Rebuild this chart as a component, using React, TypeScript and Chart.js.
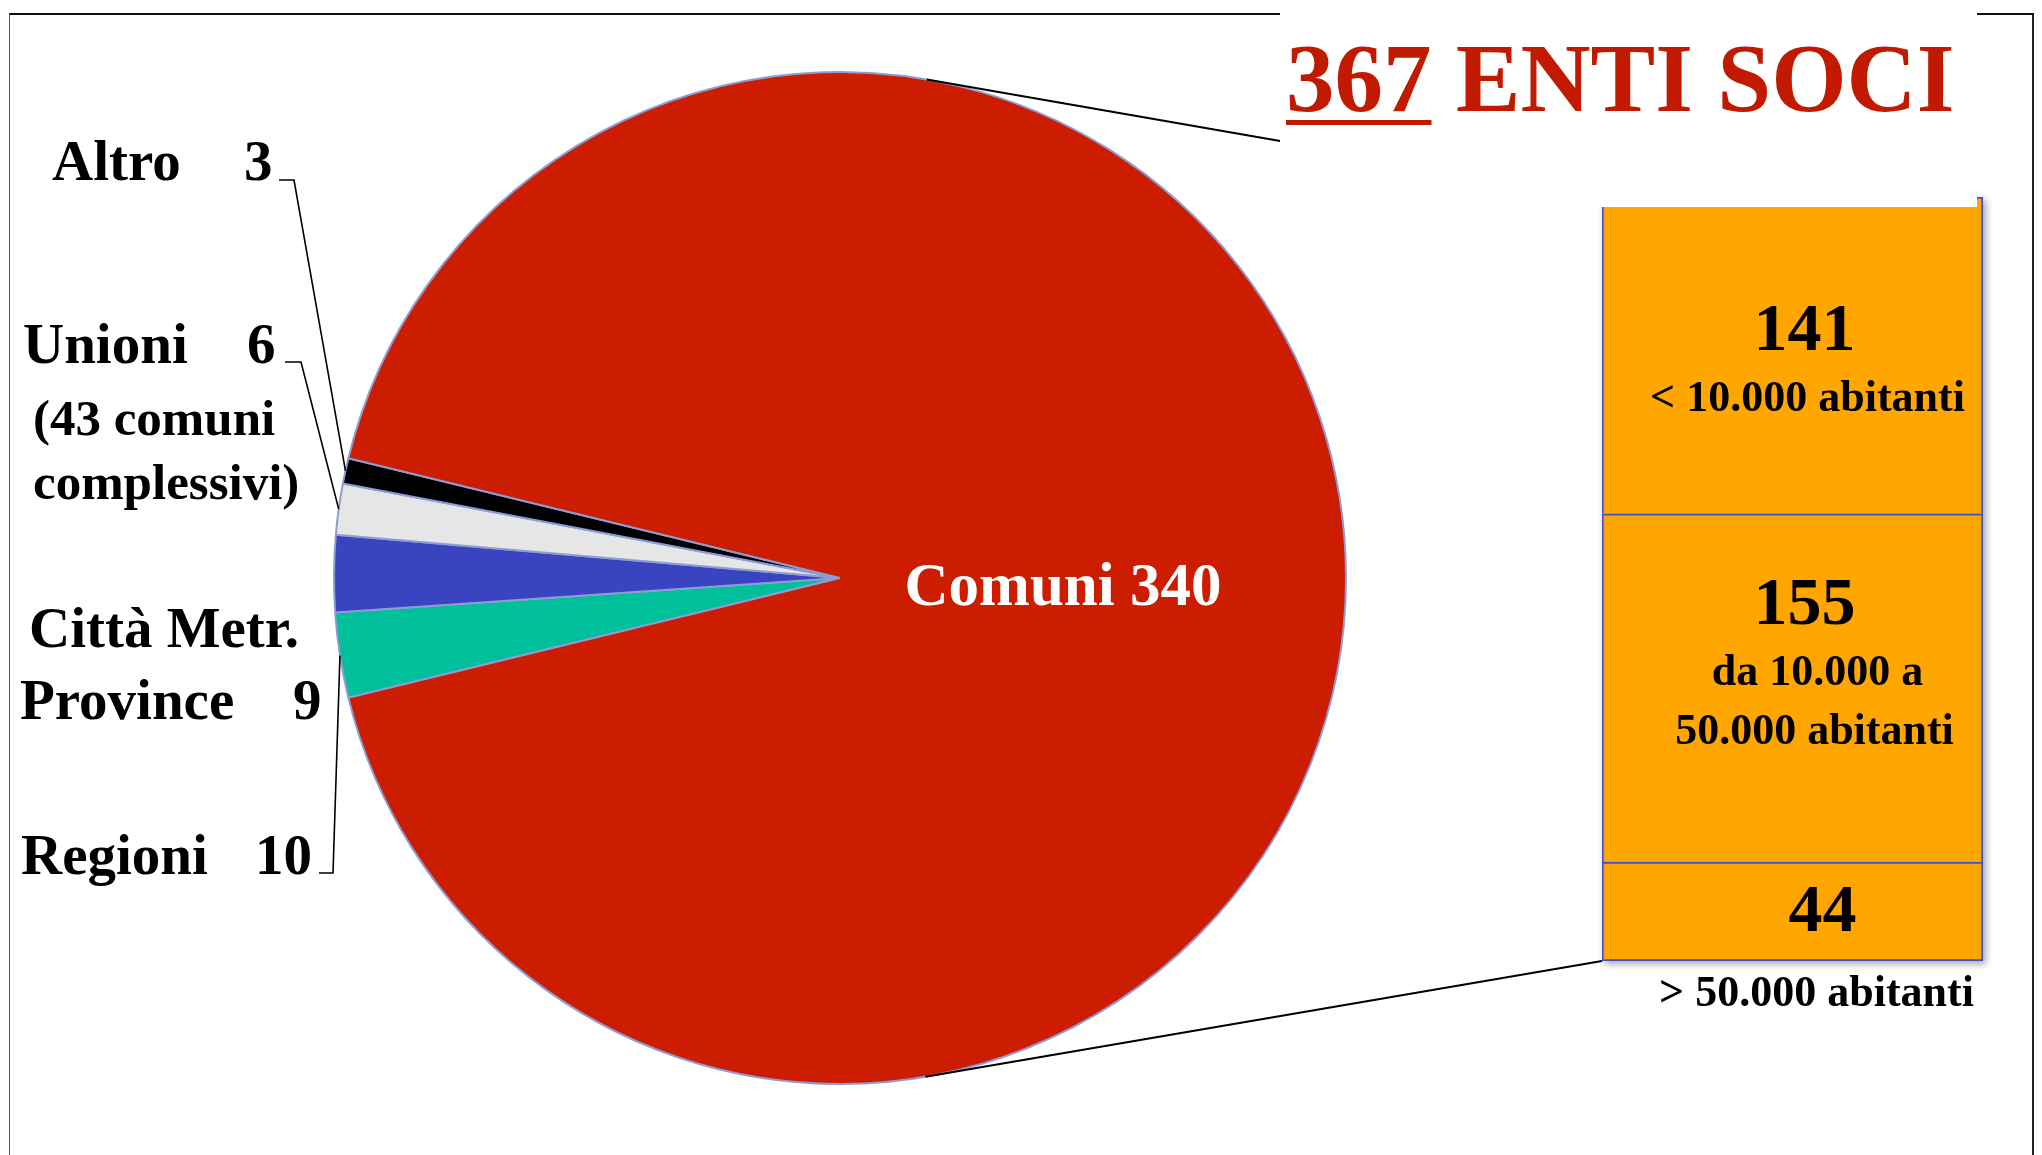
import React, { useEffect, useRef } from 'react';
import { Chart, registerables } from 'chart.js';

Chart.register(...registerables);

const W = 2042;
const H = 1155;
const FONT = '"Liberation Serif", "Times New Roman", serif';

// Pie: order is clockwise starting at the lower-left edge of the small slices
const pieCategories = ['Regioni', 'Città Metr. Province', 'Unioni', 'Altro', 'Comuni'];
const pieValues = [10, 9, 6, 3, 340];
const pieColors = ['#00BF9B', '#3A44C0', '#E6E6E6', '#000000', '#CC1D00'];
const unioniNote = ['(43 comuni', 'complessivi)'];
const cittaLines = ['Città Metr.', 'Province'];

// Bar of pie: split of "Comuni" by population (bottom to top)
const barCategoryLines = [['> 50.000 abitanti'], ['da 10.000 a', '50.000 abitanti'], ['< 10.000 abitanti']];
const barValues = [44, 155, 141];
const barColor = '#FFA700';

const titleNumber = '367';
const titleText = 'ENTI SOCI';

const BAR_CANVAS = { left: 1560, top: 150, width: 460, height: 880 };

export default function App() {
  const pieRef = useRef<HTMLCanvasElement>(null);
  const barRef = useRef<HTMLCanvasElement>(null);

  useEffect(() => {
    document.body.style.margin = '0';
    document.body.style.overflow = 'hidden';

    const total = pieValues.reduce((a, b) => a + b, 0);
    const smallSum = total - pieValues[pieValues.length - 1];
    const rotation = 270 - (smallSum / total) * 360 / 2;

    const barShadow = {
      id: 'barShadow',
      beforeDatasetsDraw(chart: any) {
        const ctx = chart.ctx;
        let l = Infinity, r = -Infinity, t = Infinity, b = -Infinity;
        chart.data.datasets.forEach((_: any, i: number) => {
          const e: any = chart.getDatasetMeta(i).data[0];
          l = Math.min(l, e.x - e.width / 2);
          r = Math.max(r, e.x + e.width / 2);
          t = Math.min(t, e.y, e.base);
          b = Math.max(b, e.y, e.base);
        });
        ctx.save();
        ctx.shadowColor = 'rgba(0,0,0,0.35)';
        ctx.shadowBlur = 7;
        ctx.shadowOffsetX = 3;
        ctx.shadowOffsetY = 3;
        ctx.fillStyle = barColor;
        ctx.fillRect(l, t, r - l, b - t);
        ctx.restore();
      },
    };

    const barLabels = {
      id: 'barLabels',
      afterDatasetsDraw(chart: any) {
        const ctx = chart.ctx;
        const seg = (i: number) => {
          const e: any = chart.getDatasetMeta(i).data[0];
          return { cx: e.x, top: Math.min(e.y, e.base), base: Math.max(e.y, e.base), mid: (e.y + e.base) / 2 };
        };
        const numFont = `bold 68px ${FONT}`;
        const txtFont = `bold 44px ${FONT}`;
        ctx.save();
        ctx.fillStyle = '#000';
        ctx.textAlign = 'center';
        ctx.textBaseline = 'alphabetic';
        const put = (t: string, x: number, y: number, f: string) => {
          ctx.font = f;
          ctx.fillText(t, x, y);
        };
        // top segment (141)
        const s2 = seg(2);
        put(String(barValues[2]), s2.cx + 12, s2.mid - 5, numFont);
        put(barCategoryLines[2][0], s2.cx + 15, s2.mid + 56, txtFont);
        // middle segment (155)
        const s1 = seg(1);
        put(String(barValues[1]), s1.cx + 12, s1.mid - 64, numFont);
        put(barCategoryLines[1][0], s1.cx + 25, s1.mid - 3, txtFont);
        put(barCategoryLines[1][1], s1.cx + 22, s1.mid + 56, txtFont);
        // bottom segment (44)
        const s0 = seg(0);
        put(String(barValues[0]), s0.cx + 30, s0.mid + 19, numFont);
        put(barCategoryLines[0][0], s0.cx + 24, s0.base + 45, txtFont);
        ctx.restore();
      },
    };

    const barChart = new Chart(barRef.current as HTMLCanvasElement, {
      type: 'bar',
      data: {
        labels: ['Comuni'],
        datasets: barValues.map((v, i) => ({
          label: barCategoryLines[i].join(' '),
          data: [v],
          backgroundColor: barColor,
          borderColor: '#4150D2',
          borderWidth: 2,
          borderSkipped: i === 0 ? false : 'start',
          barPercentage: 1,
          categoryPercentage: 1,
        })),
      },
      options: {
        animation: false,
        responsive: false,
        maintainAspectRatio: false,
        layout: { padding: { left: 42, right: 37, top: 47, bottom: 69 } },
        scales: {
          x: { stacked: true, display: false },
          y: { stacked: true, display: false, min: 0, max: barValues.reduce((a, b) => a + b, 0) },
        },
        plugins: { legend: { display: false }, tooltip: { enabled: false } },
      },
      plugins: [barShadow, barLabels],
    } as any);

    const pieExtras = {
      id: 'pieExtras',
      afterDraw(chart: any) {
        const ctx = chart.ctx;
        const arcs: any[] = chart.getDatasetMeta(0).data;
        const cx = arcs[0].x;
        const cy = arcs[0].y;
        const R = arcs[0].outerRadius;
        const mid = (i: number) => {
          const a = arcs[i];
          const m = (a.startAngle + a.endAngle) / 2;
          return [cx + Math.cos(m) * R, cy + Math.sin(m) * R];
        };
        ctx.save();
        ctx.textBaseline = 'alphabetic';
        // Comuni label inside pie
        ctx.fillStyle = '#ffffff';
        ctx.textAlign = 'center';
        ctx.font = `bold 61px ${FONT}`;
        ctx.fillText(`${pieCategories[4]} ${pieValues[4]}`, cx + 223, cy + 27);

        // left labels
        ctx.fillStyle = '#000';
        ctx.textAlign = 'left';
        const big = `bold 57px ${FONT}`;
        const small = `bold 51px ${FONT}`;
        const txt = (t: string, x: number, y: number, f: string) => {
          ctx.font = f;
          ctx.fillText(t, x, y);
        };
        txt(pieCategories[3], 52, 180, big);
        txt(String(pieValues[3]), 244, 180, big);
        txt(pieCategories[2], 23, 363, big);
        txt(String(pieValues[2]), 247, 363, big);
        txt(unioniNote[0], 33, 435, small);
        txt(unioniNote[1], 33, 499, small);
        txt(cittaLines[0], 29, 647, big);
        txt(cittaLines[1], 20, 719, big);
        txt(String(pieValues[1]), 293, 719, big);
        txt(pieCategories[0], 21, 874, big);
        txt(String(pieValues[0]), 255, 874, big);

        // leader lines
        ctx.strokeStyle = '#000';
        ctx.lineWidth = 1.6;
        const leader = (i: number, x0: number, x1: number, y: number) => {
          const [px, py] = mid(i);
          ctx.beginPath();
          ctx.moveTo(x0, y);
          ctx.lineTo(x1, y);
          ctx.lineTo(px, py);
          ctx.stroke();
        };
        leader(3, 279, 294, 180);
        leader(2, 285, 301, 362);
        leader(0, 319, 333, 873);

        // connector lines (tangent from bar corners to pie)
        const topEl: any = barChart.getDatasetMeta(2).data[0];
        const botEl: any = barChart.getDatasetMeta(0).data[0];
        const corners = [
          { x: BAR_CANVAS.left + topEl.x - topEl.width / 2, y: BAR_CANVAS.top + Math.min(topEl.y, topEl.base), side: -1 },
          { x: BAR_CANVAS.left + botEl.x - botEl.width / 2, y: BAR_CANVAS.top + Math.max(botEl.y, botEl.base), side: 1 },
        ];
        ctx.lineWidth = 2.2;
        corners.forEach((p) => {
          const dx = p.x - cx;
          const dy = p.y - cy;
          const d = Math.hypot(dx, dy);
          const base = Math.atan2(dy, dx);
          const alpha = Math.acos(R / d);
          const ang = base + p.side * alpha;
          ctx.beginPath();
          ctx.moveTo(cx + Math.cos(ang) * R, cy + Math.sin(ang) * R);
          ctx.lineTo(p.x, p.y);
          ctx.stroke();
        });
        ctx.restore();
      },
    };

    const pieChart = new Chart(pieRef.current as HTMLCanvasElement, {
      type: 'pie',
      data: {
        labels: pieCategories,
        datasets: [
          {
            data: pieValues,
            backgroundColor: pieColors,
            borderColor: '#8E9CD4',
            borderWidth: 2,
          },
        ],
      },
      options: {
        animation: false,
        responsive: false,
        maintainAspectRatio: false,
        rotation,
        layout: { padding: { top: 71, bottom: 70, left: 333, right: 695 } },
        plugins: { legend: { display: false }, tooltip: { enabled: false } },
      },
      plugins: [pieExtras],
    } as any);

    return () => {
      pieChart.destroy();
      barChart.destroy();
    };
  }, []);

  return (
    <div style={{ position: 'relative', width: W, height: H, overflow: 'hidden', background: '#fff' }}>
      <div
        style={{
          position: 'absolute',
          left: 9,
          top: 13,
          width: 2025,
          height: 1300,
          borderTop: '2px solid #111',
          borderLeft: '1.5px solid #555',
          borderRight: '2px solid #222',
          boxSizing: 'border-box',
        }}
      />
      <canvas ref={pieRef} width={W} height={H} style={{ position: 'absolute', left: 0, top: 0 }} />
      <canvas
        ref={barRef}
        width={BAR_CANVAS.width}
        height={BAR_CANVAS.height}
        style={{ position: 'absolute', left: BAR_CANVAS.left, top: BAR_CANVAS.top }}
      />
      <div style={{ position: 'absolute', left: 1280, top: 0, width: 697, height: 207, background: '#fff' }}>
        <div
          style={{
            position: 'absolute',
            left: 6,
            top: 30,
            font: `bold 97px ${FONT}`,
            lineHeight: '97px',
            color: '#C21A00',
            whiteSpace: 'nowrap',
          }}
        >
          <span style={{ textDecoration: 'underline', textDecorationThickness: '5px', textUnderlineOffset: '9px' }}>
            {titleNumber}
          </span>
          {' ' + titleText}
        </div>
      </div>
    </div>
  );
}
